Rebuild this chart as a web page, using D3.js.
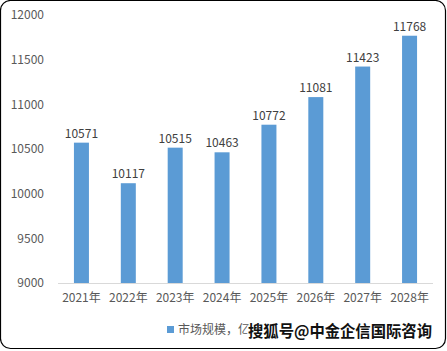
<!DOCTYPE html>
<html><head><meta charset="utf-8">
<script src="https://cdn.jsdelivr.net/npm/d3@7"></script>
<style>body{margin:0;background:#fff}svg{display:block}</style>
</head><body>
<script>
const categories = ["2021年","2022年","2023年","2024年","2025年","2026年","2027年","2028年"];
const values = [10571,10117,10515,10463,10772,11081,11423,11768];
const yTicks = [9000,9500,10000,10500,11000,11500,12000];
const seriesName = "市场规模，亿美元";
const watermark = "搜狐号@中金企信国际咨询";

const W=447,H=351;
const svg=d3.select("body").append("svg").attr("width",W).attr("height",H);
svg.append("rect").attr("x",0.5).attr("y",0.5).attr("width",W-2).attr("height",H-3)
  .attr("rx",10).attr("fill","#fff").attr("stroke","#000").attr("stroke-width",1.2);

const x=d3.scaleBand().domain(categories).range([58,433]).paddingInner(0.68).paddingOuter(0.34);
const y=d3.scaleLinear().domain([9000,12000]).range([283,15]);
const font="'Microsoft YaHei','Noto Sans CJK SC','DejaVu Sans',sans-serif";

const ya=svg.append("g").attr("transform","translate(44,0)")
  .call(d3.axisLeft(y).tickValues(yTicks).tickSize(0).tickPadding(0).tickFormat(d3.format("d")));
ya.select(".domain").remove();
ya.selectAll("text").attr("font-family",font).attr("font-size",12).attr("fill","#595959");

svg.append("line").attr("x1",58).attr("x2",433).attr("y1",283.5).attr("y2",283.5).attr("stroke","#d9d9d9");

const xa=svg.append("g").attr("transform","translate(0,283)")
  .call(d3.axisBottom(x).tickSize(0).tickPadding(10));
xa.select(".domain").remove();
xa.selectAll("text").attr("font-family",font).attr("font-size",12).attr("fill","#595959");

svg.selectAll(".bar").data(values).join("rect").attr("class","bar")
  .attr("x",(d,i)=>x(categories[i])).attr("width",x.bandwidth())
  .attr("y",d=>y(d)).attr("height",d=>y(9000)-y(d)).attr("fill","#5b9bd5");

svg.selectAll(".lbl").data(values).join("text").attr("class","lbl")
  .attr("x",(d,i)=>x(categories[i])+x.bandwidth()/2).attr("y",d=>y(d)-5)
  .attr("text-anchor","middle").attr("font-family",font).attr("font-size",12).attr("fill","#404040")
  .text(d=>d);

svg.append("rect").attr("x",167).attr("y",326).attr("width",7).attr("height",7).attr("fill","#5b9bd5");
svg.append("text").attr("x",178).attr("y",334).attr("font-family",font).attr("font-size",12)
  .attr("fill","#595959").text(seriesName);
svg.append("text").attr("x",248).attr("y",337).attr("font-family",font).attr("font-size",16)
  .attr("font-weight","bold").attr("fill","#111").attr("stroke","#fff").attr("stroke-width",3)
  .attr("paint-order","stroke").attr("textLength",184).attr("lengthAdjust","spacingAndGlyphs")
  .text(watermark);
</script>
</body></html>
